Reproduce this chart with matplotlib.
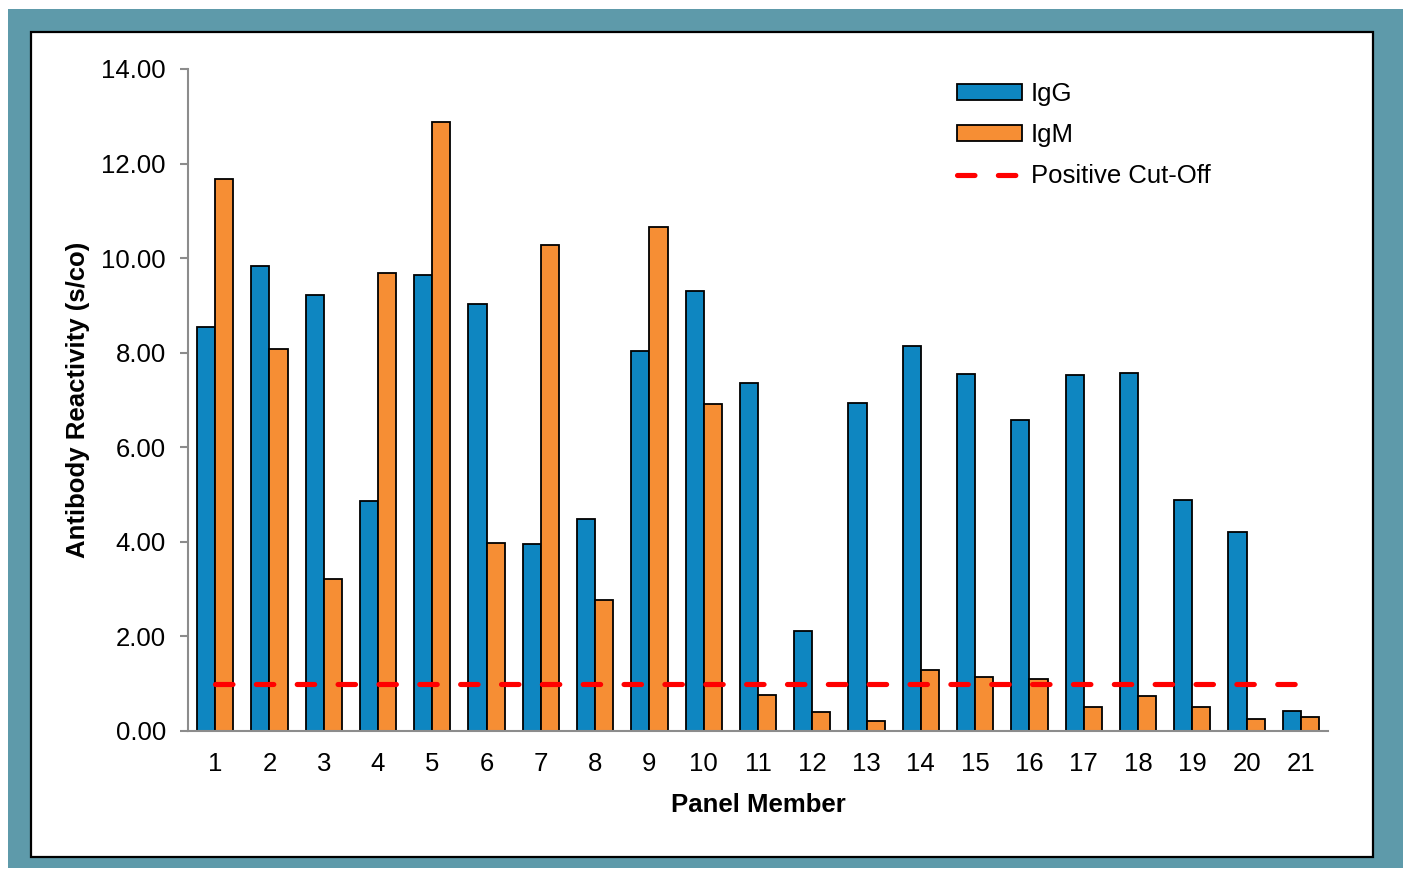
import numpy as np
import matplotlib
matplotlib.use("Agg")
import matplotlib.pyplot as plt
from matplotlib.patches import Rectangle

plt.rcParams['font.family'] = ['Liberation Sans', 'DejaVu Sans']

members = list(range(1, 22))
igg = [8.54, 9.83, 9.22, 4.86, 9.64, 9.03, 3.95, 4.48, 8.04, 9.30, 7.36,
       2.11, 6.94, 8.14, 7.55, 6.58, 7.53, 7.57, 4.88, 4.21, 0.42]
igm = [11.67, 8.08, 3.21, 9.68, 12.88, 3.98, 10.28, 2.77, 10.66, 6.91, 0.76,
       0.40, 0.21, 1.29, 1.14, 1.10, 0.51, 0.74, 0.51, 0.25, 0.30]
cutoff = 1.0
yticks = [0, 2, 4, 6, 8, 10, 12, 14]

W, H = 1406, 869
fig = plt.figure(figsize=(W / 100, H / 100), dpi=100)
fig.patch.set_facecolor('white')

# teal frame and white panel
fig.add_artist(Rectangle((8 / W, 1 - 868 / H), (1403 - 8) / W, (868 - 9) / H,
                         transform=fig.transFigure, facecolor='#5E9AAA',
                         edgecolor='none', zorder=-2))
fig.add_artist(Rectangle((31 / W, 1 - 857 / H), (1373 - 31) / W, (857 - 32) / H,
                         transform=fig.transFigure, facecolor='white',
                         edgecolor='black', linewidth=1.6, zorder=-1))

ax = fig.add_axes([188 / W, 1 - 731 / H, (1328 - 188) / W, (731 - 69) / H])
ax.set_facecolor('none')

x = np.array(members)
w = 0.335
b1 = ax.bar(x - w / 2, igg, width=w, color='#0E86C1', edgecolor='black',
            linewidth=1.3, label='IgG', zorder=2)
b2 = ax.bar(x + w / 2, igm, width=w, color='#F68E34', edgecolor='black',
            linewidth=1.3, label='IgM', zorder=2)
ln, = ax.plot([x[0], x[-1]], [cutoff, cutoff], color='#FF0000', linewidth=3.7,
              linestyle=(0, (3.4, 4.55)), dash_capstyle='round',
              label='Positive Cut-Off', zorder=3)

ax.set_xlim(0.5, 21.5)
ax.set_ylim(0, 14)
ax.set_yticks(yticks)
ax.set_yticklabels(['%.2f' % v for v in yticks])
ax.set_xticks(x)
ax.set_xticklabels([str(m) for m in members])

for s in ['top', 'right']:
    ax.spines[s].set_visible(False)
for s in ['left', 'bottom']:
    ax.spines[s].set_color('#8C8C8C')
    ax.spines[s].set_linewidth(1.5)

ax.tick_params(axis='y', direction='out', length=6, width=1.5,
               color='#8C8C8C', pad=10, labelsize=18.5)
ax.tick_params(axis='x', length=0, pad=15, labelsize=18.5)

ax.set_xlabel('Panel Member', fontsize=18.5, fontweight='bold', labelpad=12)
ax.set_ylabel('Antibody Reactivity (s/co)', fontsize=18.5, fontweight='bold',
              labelpad=8)

leg = ax.legend([b1, b2, ln], ['IgG', 'IgM', 'Positive Cut-Off'],
                loc='upper left', bbox_to_anchor=(947 / W, 1 - 72 / H),
                bbox_transform=fig.transFigure, frameon=False,
                fontsize=18.5, handlelength=2.5, handleheight=0.55,
                handletextpad=0.35, labelspacing=0.66, borderaxespad=0)

fig.savefig('out.png', dpi=100)
